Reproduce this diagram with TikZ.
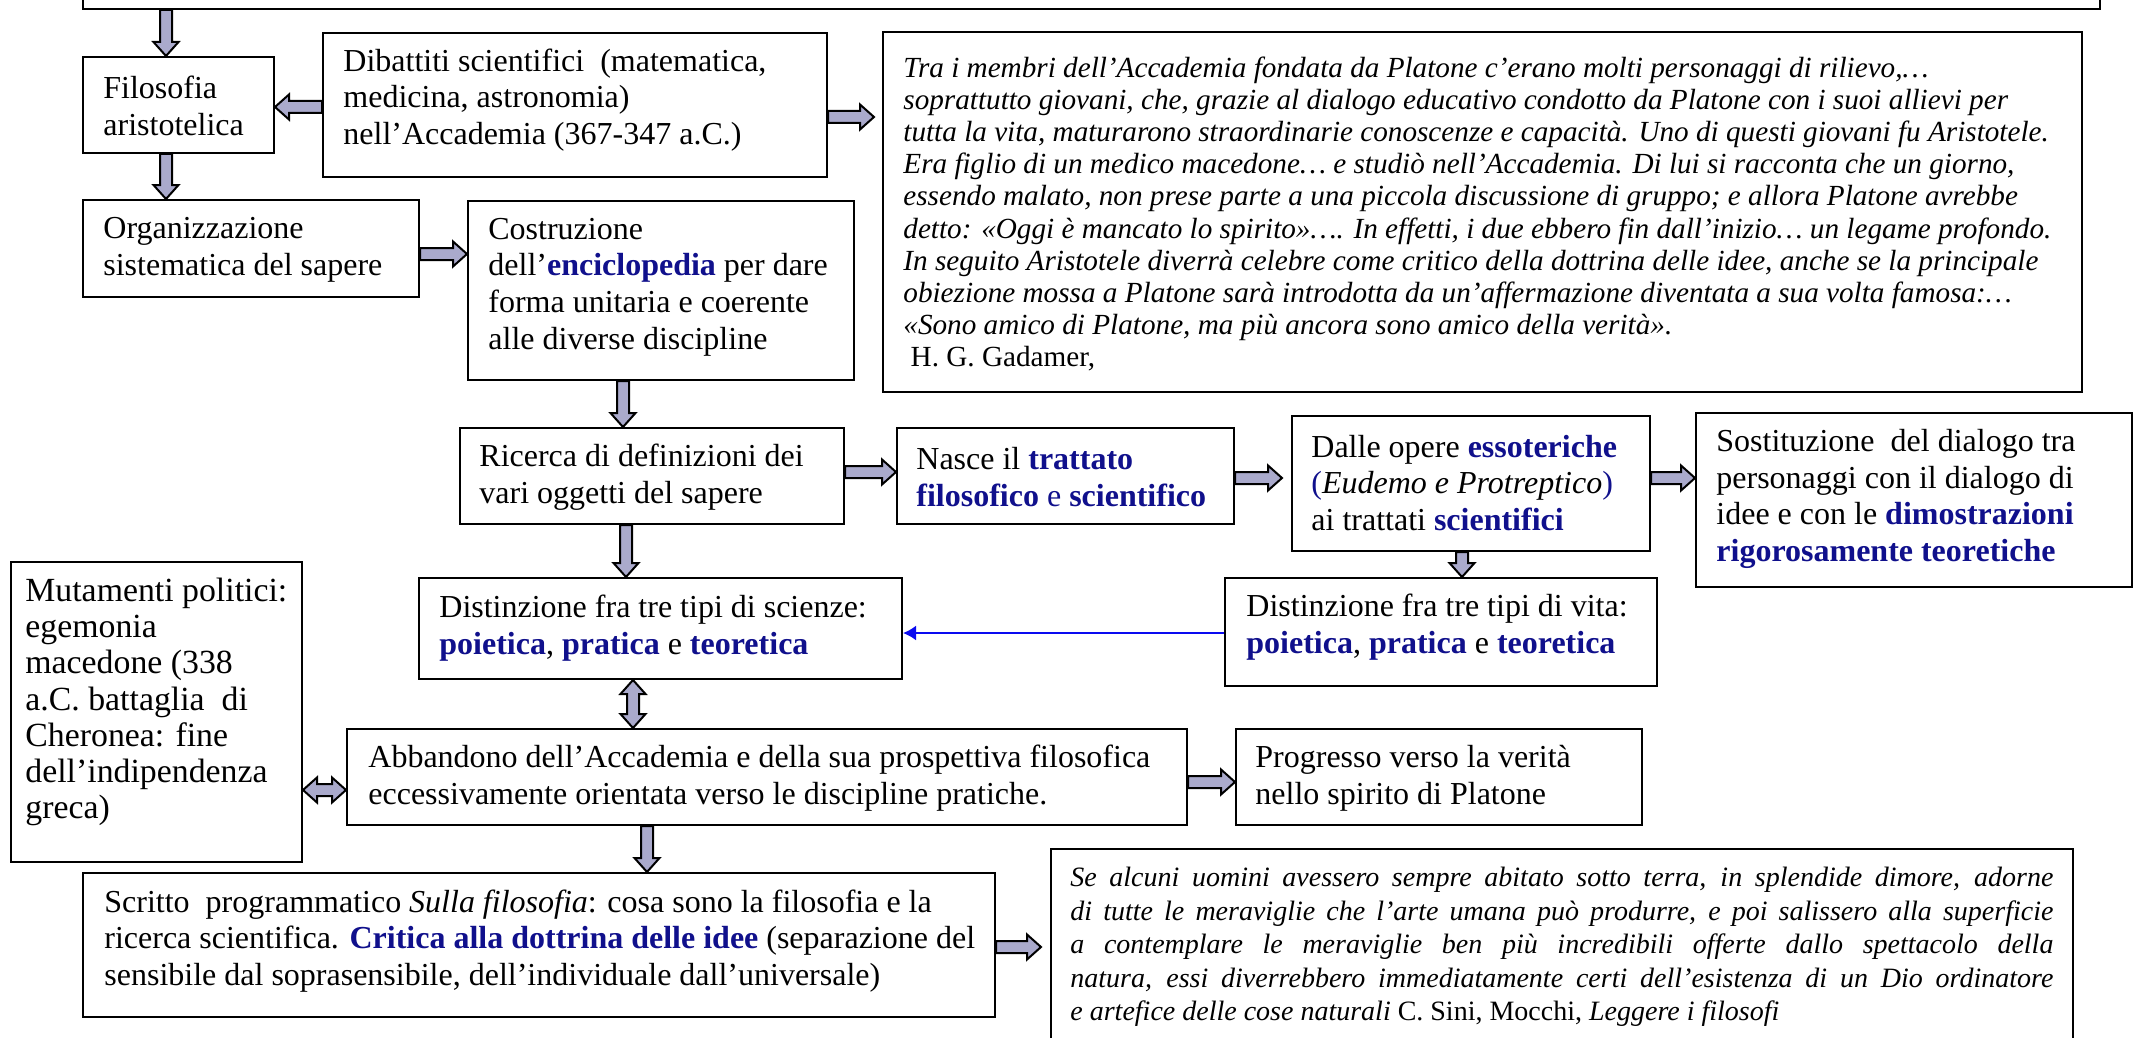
\documentclass[tikz,border=0pt]{standalone}
\usepackage{fontspec}
\setmainfont{Liberation Serif}
\usetikzlibrary{calc,fit,arrows.meta}
\definecolor{nb}{RGB}{16,16,140}
\definecolor{lav}{RGB}{170,170,204}
\definecolor{barblue}{RGB}{10,10,240}
\newcommand{\bluebf}[1]{\textbf{\color{nb}#1}}
\tikzset{
  box/.style={draw=black, line width=1pt, inner sep=0pt},
  txt/.style={anchor=west, inner sep=0pt, align=left, font=\fontsize{16pt}{18.35pt}\selectfont},
  qtxt/.style={anchor=west, inner sep=0pt, align=left, font=\fontsize{14.6pt}{16.1pt}\selectfont\itshape},
  barrow/.style={draw=black, line width=1pt, fill=lav, line join=miter,
    to path={let \p1=(\tikztostart), \p2=(\tikztotarget),
      \n1={atan2(\y2-\y1,\x2-\x1)}, \n2={veclen(\x2-\x1,\y2-\y1)} in
      {[shift={(\p1)}, rotate=\n1]
        (0pt,-3pt) -- ({\n2*1pt-7pt},-3pt) -- ({\n2*1pt-7pt},-6.25pt) -- ({\n2*1pt},0pt)
        -- ({\n2*1pt-7pt},6.25pt) -- ({\n2*1pt-7pt},3pt) -- (0pt,3pt) -- cycle}}},
  dbarrow/.style={draw=black, line width=1pt, fill=lav, line join=miter,
    to path={let \p1=(\tikztostart), \p2=(\tikztotarget),
      \n1={atan2(\y2-\y1,\x2-\x1)}, \n2={veclen(\x2-\x1,\y2-\y1)} in
      {[shift={(\p1)}, rotate=\n1]
        (0pt,0pt) -- (7pt,6.25pt) -- (7pt,3pt) -- ({\n2*1pt-7pt},3pt) -- ({\n2*1pt-7pt},6.25pt)
        -- ({\n2*1pt},0pt) -- ({\n2*1pt-7pt},-6.25pt) -- ({\n2*1pt-7pt},-3pt) -- (7pt,-3pt)
        -- (7pt,-6.25pt) -- cycle}}},
  bluearr/.style={draw=barblue, line width=1pt, -{Latex[length=6.5pt,width=7.5pt]}},
}
\begin{document}
\begin{tikzpicture}[x=0.5pt,y=-0.5pt]
\useasboundingbox (0,0) rectangle (2137,1038);
\clip (0,0) rectangle (2137,1038);
\fill[white] (0,0) rectangle (2137,1038);

% boxes
\node[box, fit={(83,-40) (2100,9)}] (top) {};
\node[box, fit={(83,57) (274,153)}] (filo) {};
\node[box, fit={(323,33) (827,177)}] (dib) {};
\node[box, fit={(883,32) (2082,392)}] (q1) {};
\node[box, fit={(83,200) (419,297)}] (org) {};
\node[box, fit={(468,201) (854,380)}] (cost) {};
\node[box, fit={(460,428) (844,524)}] (ric) {};
\node[box, fit={(897,428) (1234,524)}] (nasce) {};
\node[box, fit={(1292,416) (1650,551)}] (dalle) {};
\node[box, fit={(1696,413) (2132,587)}] (sost) {};
\node[box, fit={(419,578) (902,679)}] (scien) {};
\node[box, fit={(1225,578) (1657,686)}] (vita) {};
\node[box, fit={(11,562) (302,862)}] (mut) {};
\node[box, fit={(347,729) (1187,825)}] (abb) {};
\node[box, fit={(1236,729) (1642,825)}] (prog) {};
\node[box, fit={(83,873) (995,1017)}] (scritto) {};
\node[box, fit={(1051,849) (2073,1045)}] (q2) {};

% texts
\node[txt] (filo-t) at (103,106) {Filosofia\\aristotelica};
\node[txt] (dib-t) at (343,100) {Dibattiti scientifici\ \ (matematica,\\medicina, astronomia)\\nell’Accademia (367-347 a.C.)};
\node[qtxt] (q1-t) at (903,214) {Tra i membri dell’Accademia fondata da Platone c’erano molti personaggi di rilievo,…\\
soprattutto giovani, che, grazie al dialogo educativo condotto da Platone con i suoi allievi per\\
tutta la vita, maturarono straordinarie conoscenze e capacità. Uno di questi giovani fu Aristotele.\\
Era figlio di un medico macedone… e studiò nell’Accademia. Di lui si racconta che un giorno,\\
essendo malato, non prese parte a una piccola discussione di gruppo; e allora Platone avrebbe\\
detto: «Oggi è mancato lo spirito»…. In effetti, i due ebbero fin dall’inizio… un legame profondo.\\
In seguito Aristotele diverrà celebre come critico della dottrina delle idee, anche se la principale\\
obiezione mossa a Platone sarà introdotta da un’affermazione diventata a sua volta famosa:…\\
«Sono amico di Platone, ma più ancora sono amico della verità».\\
{\upshape\ H. G. Gadamer,}};
\node[txt] (org-t) at (103,250) {Organizzazione\\sistematica del sapere};
\node[txt] (cost-t) at (488,287) {Costruzione\\dell’\bluebf{enciclopedia} per dare\\forma unitaria e coerente\\alle diverse discipline};
\node[txt] (ric-t) at (479,477) {Ricerca di definizioni dei\\vari oggetti del sapere};
\node[txt] (nasce-t) at (916,477) {Nasce il \bluebf{trattato}\\\bluebf{filosofico} {\color{nb}e} \bluebf{scientifico}};
\node[txt] (dalle-t) at (1311,483) {Dalle opere \bluebf{essoteriche}\\{\color{nb}(}\textit{Eudemo e Protreptico}{\color{nb})}\\ai trattati \bluebf{scientifici}};
\node[txt] (sost-t) at (1716,499) {Sostituzione\ \ del dialogo tra\\personaggi con il dialogo di\\idee e con le \bluebf{dimostrazioni}\\\bluebf{rigorosamente teoretiche}};
\node[txt] (scien-t) at (439,628) {Distinzione fra tre tipi di scienze:\\\bluebf{poietica}, \bluebf{pratica} e \bluebf{teoretica}};
\node[txt] (vita-t) at (1246,627) {Distinzione fra tre tipi di vita:\\\bluebf{poietica}, \bluebf{pratica} e \bluebf{teoretica}};
\node[txt, font=\fontsize{16.9pt}{18.1pt}\selectfont] (mut-t) at (25,702) {Mutamenti politici:\\egemonia\\macedone (338\\a.C. battaglia\ \ di\\Cheronea: fine\\dell’indipendenza\\greca)};
\node[txt] (abb-t) at (368,778) {Abbandono dell’Accademia e della sua prospettiva filosofica\\eccessivamente orientata verso le discipline pratiche.};
\node[txt] (prog-t) at (1255,778) {Progresso verso la verità\\nello spirito di Platone};
\node[txt] (scritto-t) at (104,941) {Scritto\ \ programmatico \textit{Sulla filosofia}: cosa sono la filosofia e la\\ricerca scientifica. \bluebf{Critica alla dottrina delle idee} (separazione del\\sensibile dal soprasensibile, dell’individuale dall’universale)};
\node[qtxt, font=\fontsize{14pt}{16.7pt}\selectfont\itshape] (q2-t) at (1070,947) {\makebox[491.5pt][s]{Se alcuni uomini avessero sempre abitato sotto terra, in splendide dimore, adorne}\\
\makebox[491.5pt][s]{di tutte le meraviglie che l’arte umana può produrre, e poi salissero alla superficie}\\
\makebox[491.5pt][s]{a contemplare le meraviglie ben più incredibili offerte dallo spettacolo della}\\
\makebox[491.5pt][s]{natura, essi diverrebbero immediatamente certi dell’esistenza di un Dio ordinatore}\\
e artefice delle cose naturali {\upshape C. Sini, Mocchi,} Leggere i filosofi};

% connectors
\draw[barrow] (top.south -| 166,0) to (filo.north -| 166,0);
\draw[barrow] (dib.west |- 0,107) to (filo.east |- 0,107);
\draw[barrow] (dib.east |- 0,117) to ($(q1.west |- 0,117)+(-8,0)$);
\draw[barrow] (filo.south -| 166,0) to (org.north -| 166,0);
\draw[barrow] (org.east |- 0,254) to (cost.west |- 0,254);
\draw[barrow] (cost.south -| 623,0) to (ric.north -| 623,0);
\draw[barrow] (ric.east |- 0,472) to (nasce.west |- 0,472);
\draw[barrow] (ric.south -| 626,0) to (scien.north -| 626,0);
\draw[barrow] (nasce.east |- 0,478) to ($(dalle.west |- 0,478)+(-9,0)$);
\draw[barrow] (dalle.east |- 0,478) to (sost.west |- 0,478);
\draw[barrow] (dalle.south -| 1462,0) to (vita.north -| 1462,0);
\draw[bluearr] (vita.west |- 0,633) to (scien.east |- 0,633);
\draw[dbarrow] (scien.south -| 633,0) to (abb.north -| 633,0);
\draw[dbarrow] (mut.east |- 0,790) to (abb.west |- 0,790);
\draw[barrow] (abb.east |- 0,782) to (prog.west |- 0,782);
\draw[barrow] (abb.south -| 647,0) to (scritto.north -| 647,0);
\draw[barrow] (scritto.east |- 0,947) to ($(q2.west |- 0,947)+(-9,0)$);
\end{tikzpicture}
\end{document}
